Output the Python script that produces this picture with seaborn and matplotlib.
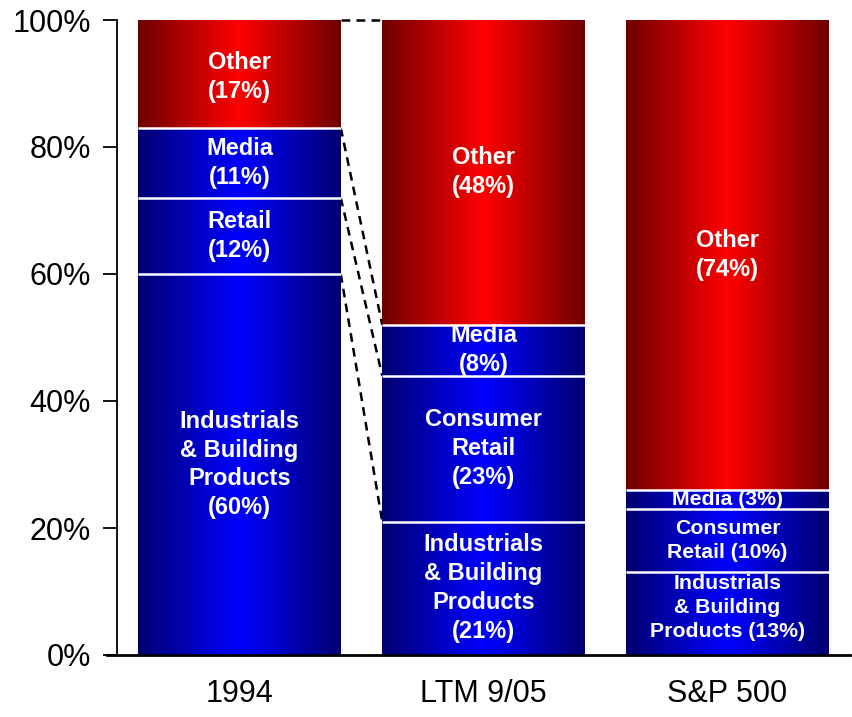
import numpy as np
import pandas as pd
import matplotlib
matplotlib.use("Agg")
import matplotlib.pyplot as plt
from matplotlib.colors import LinearSegmentedColormap
import seaborn as sns

# données
periodes = ["1994", "LTM 9/05", "S&P 500"]
industriels = [60, 21, 13]
commerce = [12, 23, 10]
medias = [11, 8, 3]
autres = [17, 48, 74]

etiquettes = {
    "industriels": ["Industrials\n& Building\nProducts\n(60%)",
                    "Industrials\n& Building\nProducts\n(21%)",
                    "Industrials\n& Building\nProducts (13%)"],
    "commerce": ["Retail\n(12%)", "Consumer\nRetail\n(23%)", "Consumer\nRetail (10%)"],
    "medias": ["Media\n(11%)", "Media\n(8%)", "Media (3%)"],
    "autres": ["Other\n(17%)", "Other\n(48%)", "Other\n(74%)"],
}

df = pd.DataFrame({"Periode": periodes, "industriels": industriels,
                   "commerce": commerce, "medias": medias, "autres": autres})
couches = ["industriels", "commerce", "medias", "autres"]
cumul = df[couches].cumsum(axis=1)
bas = cumul.shift(1, axis=1).fillna(0)

sns.set_style("white")
plt.rcParams["font.family"] = ["Liberation Sans", "DejaVu Sans"]

fig = plt.figure(figsize=(8.53, 7.17), dpi=100)
ax = fig.add_axes([107 / 853, 1 - 655 / 717, (850 - 107) / 853, (655 - 20) / 717])

cmap_bleu = LinearSegmentedColormap.from_list("bleu", ["#000070", "#0000ff", "#000070"])
cmap_rouge = LinearSegmentedColormap.from_list("rouge", ["#6e0000", "#ff0000", "#6e0000"])
degrade = np.linspace(0, 1, 256).reshape(1, -1)

# barres cumulées, du haut vers le bas (les couches basses recouvrent les hautes)
ordre = list(reversed(couches))
for k, c in enumerate(ordre):
    n0 = len(ax.patches)
    sns.barplot(data=cumul.assign(Periode=periodes), x="Periode", y=c, ax=ax,
                color="blue", width=0.83, linewidth=0, saturation=1)
    cmap = cmap_rouge if c == "autres" else cmap_bleu
    for p in ax.patches[n0:]:
        x0, y0 = p.get_x(), p.get_y()
        w, h = p.get_width(), p.get_height()
        p.set_facecolor("none")
        im = ax.imshow(degrade, cmap=cmap, aspect="auto",
                       extent=[x0, x0 + w, y0, y0 + h], zorder=2 + k * 0.1)
        im.set_clip_path(p)
        if c != "autres":
            ax.plot([x0, x0 + w], [y0 + h, y0 + h], color="white", lw=1.8,
                    zorder=5, solid_capstyle="butt")

# lignes pointillées entre 1994 et LTM
larg = 0.83
for c in ["autres", "medias", "commerce", "industriels"]:
    ax.plot([0 + larg / 2, 1 - larg / 2], [cumul.loc[0, c], cumul.loc[1, c]],
            color="black", ls=(0, (3.5, 2.5)), lw=1.8, zorder=1, clip_on=False)

# textes dans les segments
for i in range(3):
    for c in couches:
        ymil = bas.loc[i, c] + df.loc[i, c] / 2
        taille = 15.3 if i == 2 and c != "autres" else 17
        if i == 2 and c == "industriels":
            ymil += 1
        if c == "autres" and i == 0:
            ymil -= 0.5
        ax.text(i, ymil, etiquettes[c][i], ha="center", va="center", color="white",
                fontsize=taille, fontweight="bold", linespacing=1.33, zorder=6)

ax.spines["top"].set_visible(False)
ax.spines["right"].set_visible(False)
ax.spines["left"].set_position(("data", -0.5))
ax.spines["left"].set_linewidth(1.3)
ax.spines["bottom"].set_linewidth(2)
ax.spines["left"].set_color("black")
ax.spines["bottom"].set_color("black")
ax.spines["bottom"].set_zorder(7)

ax.set_xlim(-0.543, 2.502)
ax.set_ylim(0, 100)
ax.set_yticks(range(0, 101, 20))
ax.set_yticklabels([f"{v}%" for v in range(0, 101, 20)])
ax.tick_params(axis="x", labelsize=22, length=0, pad=17, labelcolor="black")
ax.tick_params(axis="y", labelsize=22, direction="out", length=10, width=1.3,
               left=True, pad=9, labelcolor="black", color="black")
ax.set_xlabel("")
ax.set_ylabel("")

plt.savefig("out.png", dpi=100)
